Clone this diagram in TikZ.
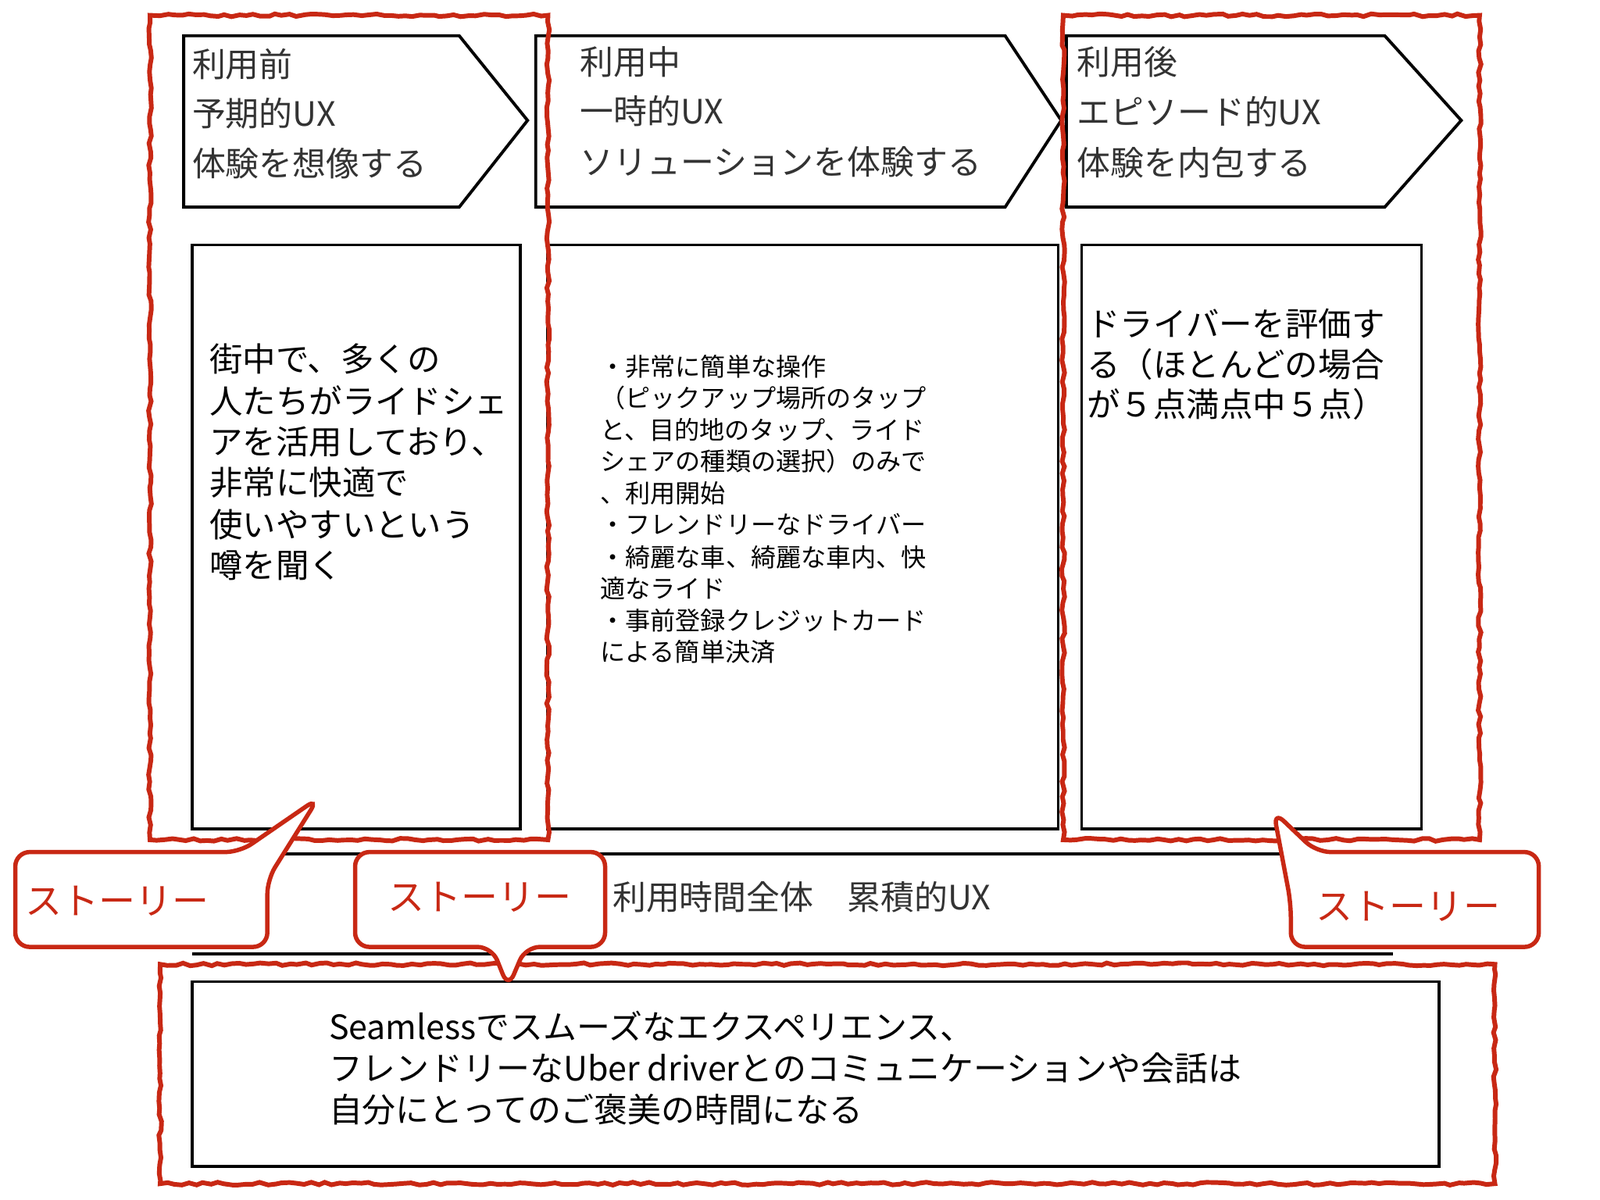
\documentclass[tikz,border=0pt]{standalone}
\usepackage{fontspec}
\setmainfont{Noto Sans CJK JP}
\usetikzlibrary{decorations.pathmorphing}
\definecolor{rd}{RGB}{200,40,20}
\tikzset{
 redframe/.style={draw=rd,line width=2.6pt,decorate,decoration={random steps,segment length=4pt,amplitude=0.8pt}},
 blk/.style={draw=black,line width=1.7pt},
 callout/.style={draw=rd,line width=2.4pt,fill=white,rounded corners=8pt},
 hd/.style={anchor=west,inner sep=0,font=\fontsize{18.7}{18.7}\selectfont,text=black!80},
 bigt/.style={anchor=west,inner sep=0,font=\fontsize{18.5}{18.5}\selectfont},
 bott/.style={anchor=west,inner sep=0,font=\fontsize{18.7}{18.7}\selectfont},
 smt/.style={anchor=west,inner sep=0,font=\fontsize{14}{14}\selectfont},
 st/.style={inner sep=0,font=\fontsize{20.5}{20.5}\selectfont,text=rd},
}
\begin{document}
\begin{tikzpicture}[x=0.02cm,y=-0.02cm]
\useasboundingbox[fill=white] (0,0) rectangle (1568,1176);
% chevrons
\draw[blk] (180,35) -- (450,35) -- (517,118) -- (450,203) -- (180,203) -- cycle;
\draw[blk] (525,35) -- (985,35) -- (1040,118) -- (985,203) -- (525,203) -- cycle;
\draw[blk] (1045,35) -- (1357,35) -- (1432,118) -- (1357,203) -- (1045,203) -- cycle;
\node[hd] (a1) at (188,63) {利用前};
\node[hd] (a2) at (188,111) {予期的UX};
\node[hd] (a3) at (188,160) {体験を想像する};
\node[hd] (b1) at (568,61) {利用中};
\node[hd] (b2) at (568,109) {一時的UX};
\node[hd] (b3) at (568,159) {ソリューションを体験する};
\node[hd] (c1) at (1055,61) {利用後};
\node[hd] (c2) at (1055,109) {エピソード的UX};
\node[hd] (c3) at (1055,159) {体験を内包する};
% boxes
\draw[blk] (188,240) rectangle (510,812);
\draw[blk] (537,240) rectangle (1037,812);
\draw[blk] (1060,240) rectangle (1393,812);
\node[bigt] (l1) at (205,352) {街中で、多くの};
\node[bigt] (l2) at (205,393) {人たちがライドシェ};
\node[bigt] (l3) at (205,433) {アを活用しており、};
\node[bigt] (l4) at (205,473) {非常に快適で};
\node[bigt] (l5) at (205,514) {使いやすいという};
\node[bigt] (l6) at (205,554) {噂を聞く};
\node[smt] (m1) at (588,359) {・非常に簡単な操作};
\node[smt] (m2) at (588,390) {（ピックアップ場所のタップ};
\node[smt] (m3) at (588,421) {と、目的地のタップ、ライド};
\node[smt] (m4) at (588,452) {シェアの種類の選択）のみで};
\node[smt] (m5) at (588,483) {、利用開始};
\node[smt] (m6) at (588,514) {・フレンドリーなドライバー};
\node[smt] (m7) at (588,546) {・綺麗な車、綺麗な車内、快};
\node[smt] (m8) at (588,577) {適なライド};
\node[smt] (m9) at (588,608) {・事前登録クレジットカード};
\node[smt] (m10) at (588,639) {による簡単決済};
\node[bigt] (r1) at (1065,317) {ドライバーを評価す};
\node[bigt] (r2) at (1065,357) {る（ほとんどの場合};
\node[bigt] (r3) at (1065,396) {が５点満点中５点）};
% band
\draw[blk] (188,837) -- (1365,837) (188,935) -- (1365,935);
\node[hd] (band) at (600,879) {利用時間全体\quad 累積的UX};
% bottom box
\draw[blk] (188,962) rectangle (1410,1143);
\node[bott] (s1) at (322,1006) {Seamlessでスムーズなエクスペリエンス、};
\node[bott] (s2) at (322,1047) {フレンドリーなUber driverとのコミュニケーションや会話は};
\node[bott] (s3) at (322,1087) {自分にとってのご褒美の時間になる};
% red frames
\draw[redframe] (147,15) rectangle (537,823);
\draw[redframe] (1042,15) rectangle (1450,823);
\draw[redframe] (157,945) rectangle (1465,1160);
% callouts
\draw[callout] (15,835) -- (235,835) -- (312,782) -- (262,862) -- (262,928) -- (15,928) -- cycle;
\node[st] (t1) at (115,883) {ストーリー};
\draw[callout] (348,835) -- (593,835) -- (593,928) -- (515,928) -- (498,968) -- (482,928) -- (348,928) -- cycle;
\node[st] (t2) at (470,879) {ストーリー};
\draw[callout] (1290,835) -- (1508,835) -- (1508,928) -- (1265,928) -- (1265,885) -- (1248,795) -- cycle;
\node[st] (t3) at (1380,888) {ストーリー};
\end{tikzpicture}
\end{document}
